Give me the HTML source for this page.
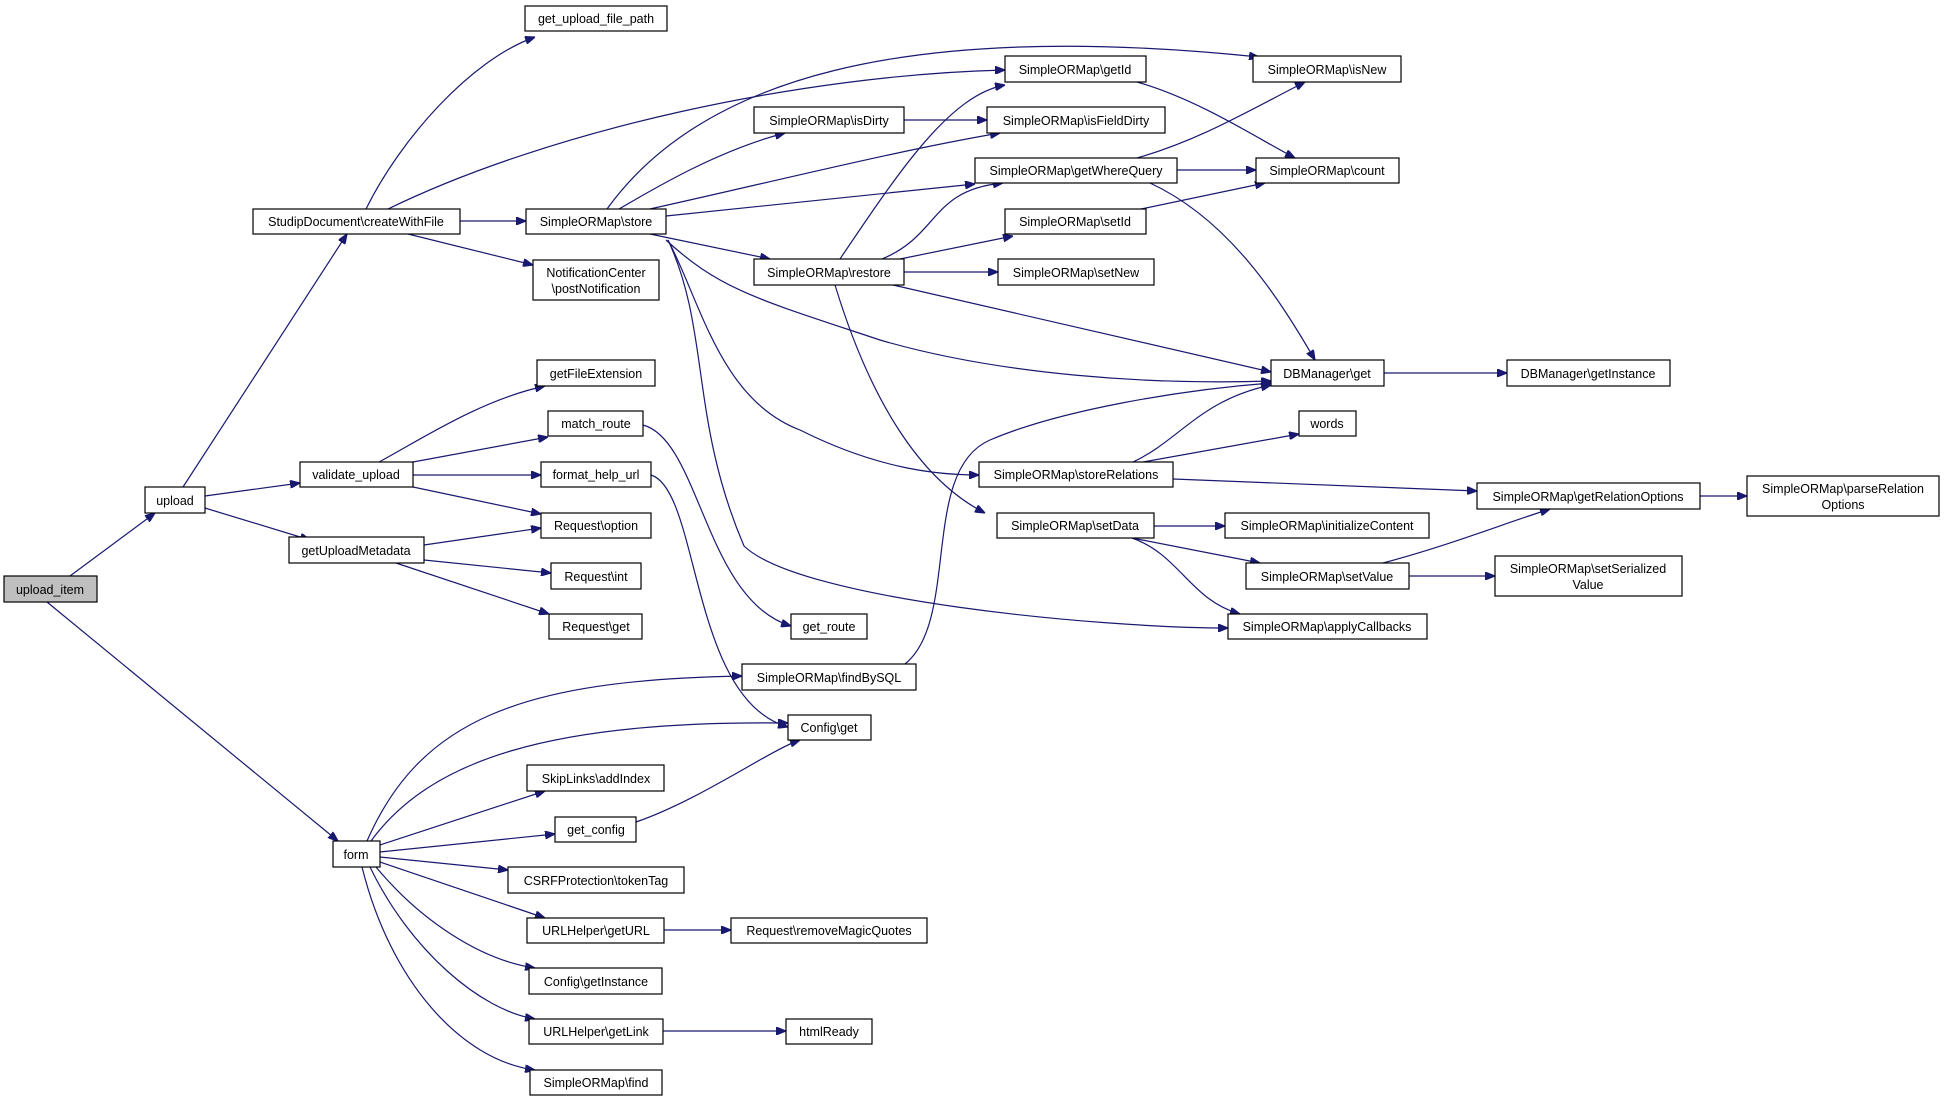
<!DOCTYPE html>
<html><head><meta charset="utf-8"><style>
html,body{margin:0;padding:0;background:#fff;}
svg{display:block}
text{font-family:"Liberation Sans",sans-serif;font-size:12.5px;fill:#000;text-anchor:middle}
rect{fill:#fff;stroke:#000;stroke-width:1.2}
path{fill:none;stroke:#191970;stroke-width:1.2}
</style></head><body>
<svg width="1944" height="1101" viewBox="0 0 1944 1101" xmlns="http://www.w3.org/2000/svg">
<defs><marker id="a" viewBox="0 0 10 8" refX="10" refY="4" markerWidth="10" markerHeight="8" markerUnits="userSpaceOnUse" orient="auto"><path d="M0,0L10,4L0,8z" style="fill:#191970;stroke:#191970"/></marker></defs>
<g marker-end="url(#a)">
<path d="M70,576L155,513"/>
<path d="M47,602L338,841"/>
<path d="M183,487L347,234"/>
<path d="M205,496L300,483"/>
<path d="M205,508L310,540"/>
<path d="M366,209C400,140 470,60 535,37"/>
<path d="M388,209C550,130 800,75 1005,70"/>
<path d="M460,221L526,221"/>
<path d="M408,234L533,265"/>
<path d="M607,209C700,80 900,20 1259,57"/>
<path d="M619,209C660,185 720,150 785,133"/>
<path d="M650,209C780,180 900,150 1000,133"/>
<path d="M666,216L975,184"/>
<path d="M650,234L770,259"/>
<path d="M666,240C720,290 760,300 880,340C1000,375 1150,385 1271,381"/>
<path d="M668,240C700,300 720,400 800,430C880,470 940,475 979,475"/>
<path d="M668,240C710,330 690,420 744,546C800,600 1100,628 1228,628"/>
<path d="M643,425C700,440 705,600 791,626"/>
<path d="M651,475C700,490 690,700 788,727"/>
<path d="M905,664C960,620 920,470 990,440C1060,410 1180,390 1271,383"/>
<path d="M840,259C900,170 950,95 1005,85"/>
<path d="M882,259C940,235 930,190 1003,183"/>
<path d="M900,259L1013,236"/>
<path d="M904,272L998,272"/>
<path d="M893,285L1271,372"/>
<path d="M835,285C870,400 920,480 985,513"/>
<path d="M1137,82C1200,100 1260,140 1295,158"/>
<path d="M904,120L987,120"/>
<path d="M1137,158C1200,140 1250,110 1305,82"/>
<path d="M1177,170L1256,170"/>
<path d="M1150,183C1230,220 1280,300 1315,360"/>
<path d="M1141,209L1265,183"/>
<path d="M1384,373L1507,373"/>
<path d="M1133,462C1180,440 1200,400 1271,385"/>
<path d="M1143,462L1299,434"/>
<path d="M1173,479L1477,491"/>
<path d="M1700,496L1747,496"/>
<path d="M1154,526L1225,526"/>
<path d="M1132,538L1260,563"/>
<path d="M1132,538C1180,555 1190,600 1240,614"/>
<path d="M1383,563C1450,545 1500,525 1550,509"/>
<path d="M1409,576L1495,576"/>
<path d="M424,545L541,528"/>
<path d="M424,560L551,573"/>
<path d="M396,563L549,614"/>
<path d="M379,462C420,440 480,400 545,386"/>
<path d="M413,462L548,437"/>
<path d="M413,475L541,475"/>
<path d="M413,487L541,514"/>
<path d="M367,841C420,720 520,680 742,676"/>
<path d="M371,841C430,760 550,720 788,723"/>
<path d="M380,845L545,791"/>
<path d="M380,852L555,834"/>
<path d="M380,857L508,870"/>
<path d="M380,862L545,918"/>
<path d="M376,867C420,920 480,960 535,968"/>
<path d="M370,867C410,950 480,1010 535,1019"/>
<path d="M362,867C390,980 460,1060 535,1070"/>
<path d="M636,822C700,800 770,750 800,740"/>
<path d="M664,930L731,930"/>
<path d="M663,1031L786,1031"/>
</g>
<g>
<rect x="4" y="576" width="93" height="26" style="fill:#bfbfbf"/><text x="50" y="594">upload_item</text>
<rect x="145" y="487" width="60" height="26"/><text x="175" y="505">upload</text>
<rect x="253" y="209" width="207" height="25"/><text x="356" y="226">StudipDocument\createWithFile</text>
<rect x="300" y="462" width="113" height="25"/><text x="356" y="479">validate_upload</text>
<rect x="289" y="537" width="135" height="26"/><text x="356" y="555">getUploadMetadata</text>
<rect x="333" y="841" width="47" height="26"/><text x="356" y="859">form</text>
<rect x="525" y="6" width="142" height="25"/><text x="596" y="23">get_upload_file_path</text>
<rect x="526" y="209" width="140" height="25"/><text x="596" y="226">SimpleORMap\store</text>
<rect x="533" y="260" width="126" height="40"/><text x="596" y="277">NotificationCenter</text><text x="596" y="293">\postNotification</text>
<rect x="537" y="360" width="118" height="26"/><text x="596" y="378">getFileExtension</text>
<rect x="548" y="411" width="95" height="25"/><text x="596" y="428">match_route</text>
<rect x="541" y="462" width="110" height="25"/><text x="596" y="479">format_help_url</text>
<rect x="541" y="513" width="110" height="25"/><text x="596" y="530">Request\option</text>
<rect x="551" y="563" width="90" height="26"/><text x="596" y="581">Request\int</text>
<rect x="549" y="614" width="93" height="25"/><text x="596" y="631">Request\get</text>
<rect x="527" y="765" width="137" height="26"/><text x="596" y="783">SkipLinks\addIndex</text>
<rect x="555" y="817" width="81" height="25"/><text x="596" y="834">get_config</text>
<rect x="508" y="867" width="176" height="26"/><text x="596" y="885">CSRFProtection\tokenTag</text>
<rect x="527" y="918" width="137" height="25"/><text x="596" y="935">URLHelper\getURL</text>
<rect x="529" y="968" width="133" height="26"/><text x="596" y="986">Config\getInstance</text>
<rect x="529" y="1019" width="134" height="25"/><text x="596" y="1036">URLHelper\getLink</text>
<rect x="530" y="1070" width="132" height="25"/><text x="596" y="1087">SimpleORMap\find</text>
<rect x="754" y="107" width="150" height="26"/><text x="829" y="125">SimpleORMap\isDirty</text>
<rect x="754" y="259" width="150" height="26"/><text x="829" y="277">SimpleORMap\restore</text>
<rect x="791" y="614" width="76" height="25"/><text x="829" y="631">get_route</text>
<rect x="742" y="664" width="174" height="26"/><text x="829" y="682">SimpleORMap\findBySQL</text>
<rect x="788" y="715" width="83" height="25"/><text x="829" y="732">Config\get</text>
<rect x="731" y="918" width="196" height="25"/><text x="829" y="935">Request\removeMagicQuotes</text>
<rect x="786" y="1019" width="86" height="25"/><text x="829" y="1036">htmlReady</text>
<rect x="1005" y="56" width="141" height="26"/><text x="1075" y="74">SimpleORMap\getId</text>
<rect x="987" y="107" width="178" height="26"/><text x="1076" y="125">SimpleORMap\isFieldDirty</text>
<rect x="975" y="158" width="202" height="25"/><text x="1076" y="175">SimpleORMap\getWhereQuery</text>
<rect x="1005" y="209" width="141" height="25"/><text x="1075" y="226">SimpleORMap\setId</text>
<rect x="998" y="259" width="156" height="26"/><text x="1076" y="277">SimpleORMap\setNew</text>
<rect x="979" y="462" width="194" height="25"/><text x="1076" y="479">SimpleORMap\storeRelations</text>
<rect x="997" y="513" width="157" height="25"/><text x="1075" y="530">SimpleORMap\setData</text>
<rect x="1253" y="56" width="148" height="26"/><text x="1327" y="74">SimpleORMap\isNew</text>
<rect x="1256" y="158" width="143" height="25"/><text x="1327" y="175">SimpleORMap\count</text>
<rect x="1271" y="360" width="113" height="26"/><text x="1327" y="378">DBManager\get</text>
<rect x="1299" y="411" width="57" height="25"/><text x="1327" y="428">words</text>
<rect x="1225" y="513" width="204" height="25"/><text x="1327" y="530">SimpleORMap\initializeContent</text>
<rect x="1246" y="563" width="163" height="26"/><text x="1327" y="581">SimpleORMap\setValue</text>
<rect x="1228" y="614" width="199" height="25"/><text x="1327" y="631">SimpleORMap\applyCallbacks</text>
<rect x="1507" y="360" width="163" height="26"/><text x="1588" y="378">DBManager\getInstance</text>
<rect x="1477" y="483" width="223" height="26"/><text x="1588" y="501">SimpleORMap\getRelationOptions</text>
<rect x="1495" y="556" width="187" height="40"/><text x="1588" y="573">SimpleORMap\setSerialized</text><text x="1588" y="589">Value</text>
<rect x="1747" y="476" width="192" height="40"/><text x="1843" y="493">SimpleORMap\parseRelation</text><text x="1843" y="509">Options</text>
</g>
</svg>
</body></html>
